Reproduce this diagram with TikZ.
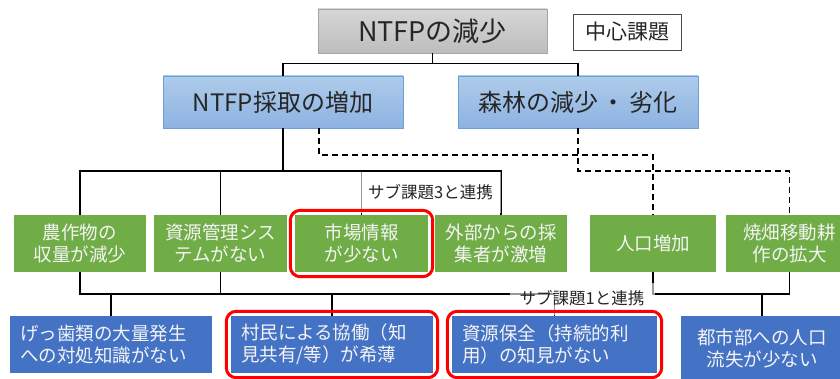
\documentclass[tikz,border=0pt]{standalone}
\usepackage{fontspec}
\setmainfont{Noto Sans CJK JP}
\usetikzlibrary{fit}
\definecolor{grnbox}{HTML}{70AD47}
\definecolor{blubox}{HTML}{4472C4}
\definecolor{hdtop}{HTML}{AECBEA}
\definecolor{hdbot}{HTML}{8DB3E2}
\definecolor{hdline}{HTML}{6A9FD8}
\definecolor{gytop}{HTML}{D6D6D6}
\definecolor{gybot}{HTML}{BDBDBD}
\definecolor{gyline}{HTML}{A5A5A5}
\definecolor{darktext}{HTML}{262626}
\definecolor{lighttext}{HTML}{F4F4F4}
\tikzset{
  base/.style={inner sep=0pt, anchor=center},
  topbox/.style={base, draw=gyline, line width=0.8pt, top color=gytop, bottom color=gybot,
    minimum width=229pt, minimum height=44pt, text=darktext, font=\fontsize{27}{30}\selectfont},
  keybox/.style={base, draw=black!70, line width=0.9pt, fill=white,
    minimum width=108pt, minimum height=36pt, text=darktext, font=\fontsize{21}{24}\selectfont},
  headbox/.style={base, draw=hdline, line width=0.8pt, top color=hdtop, bottom color=hdbot,
    minimum width=240pt, minimum height=52pt, text=darktext, font=\fontsize{24}{28}\selectfont},
  grnnode/.style={base, fill=grnbox, minimum height=57pt, text=lighttext, align=center,
    font=\fontsize{18.5}{22}\selectfont},
  blunode/.style={base, fill=blubox, minimum height=57pt, text=lighttext,
    font=\fontsize{18.5}{22}\selectfont},
  bleft/.style={blunode, align=left, inner xsep=10pt},
  conn/.style={line width=1.8pt, black},
  dconn/.style={line width=1.8pt, black, dash pattern=on 6pt off 4pt},
  linklabel/.style={base, fill=white, fill opacity=0.6, text opacity=1, text=darktext,
    font=\fontsize{16.5}{19}\selectfont},
  redframe/.style={draw=red, line width=3pt, rounded corners=10pt, inner sep=4.5pt}
}
\begin{document}
\begin{tikzpicture}[x=1pt,y=-1pt]
\clip (0,0) rectangle (840,379);
\fill[white] (0,0) rectangle (840,379);

% boxes
\node[topbox] (top) at (432.5,31) {NTFPの減少};
\node[keybox] (key) at (627.5,32) {中心課題};
\node[headbox] (h1) at (283,102) {NTFP採取の増加};
\node[headbox] (h2) at (578,102) {森林の減少\hspace{4pt}・\hspace{4pt}劣化};

\node[grnnode, minimum width=132pt] (g1) at (80,243.5) {農作物の\\収量が減少};
\node[grnnode, minimum width=133pt] (g2) at (220.5,243.5) {資源管理シス\\テムがない};
\node[grnnode, minimum width=133pt] (g3) at (361.5,243.5) {市場情報\\が少ない};
\node[grnnode, minimum width=132pt] (g4) at (501,243.5) {外部からの採\\集者が激増};
\node[grnnode, minimum width=126pt] (g5) at (653,243.5) {人口増加};
\node[grnnode, minimum width=127pt] (g6) at (789.5,243.5) {焼畑移動耕\\作の拡大};

\node[bleft, text width=182pt] (b1) at (111,344.5) {げっ歯類の大量発生\\への対処知識がない};
\node[bleft, text width=182pt] (b2) at (332,344.5) {村民による協働（知\\見共有/等）が希薄};
\node[bleft, text width=185pt] (b3) at (554.5,344.5) {資源保全（持続的利\\用）の知見がない};
\node[blunode, align=center, minimum width=162pt, minimum height=64pt] (b4) at (762,348) {都市部への人口\\流失が少ない};

% connectors
\draw[conn] (top.south) -- ++(0,11);
\draw[conn] (h1.north) -- ++(0,-12) -| (h2.north);
\draw[conn] (h1.south) -- ++(0,43);
\draw[conn] (g1.north) -- ++(0,-44) -| (g4.north);
\draw[conn] (g2.north) -- ++(0,-44);
\draw[conn] (g3.north) -- ++(0,-44);
\draw[dconn] ([xshift=36pt]h1.south) -- ++(0,27) -| (g5.north);
\draw[dconn] (h2.south) -- ++(0,43) -| (g6.north);
\draw[conn] (g1.south) -- ++(0,22) -| (b3.north);
\draw[conn] (g2.south) -- ++(0,22);
\draw[conn] (b1.north) -- ++(0,-22);
\draw[conn] (b2.north) -- ++(0,-22);
\draw[conn] (g5.south) -- ++(0,22) -| (g6.south);
\draw[conn] (b4.north) -- ++(0,-22);

% link labels
\node[linklabel, minimum width=141pt, minimum height=41pt] (l3) at (430.5,192.5) {\raisebox{-4pt}{サブ課題3と連携}};
\node[linklabel, minimum width=145pt, minimum height=32pt] (l1) at (582,299) {\raisebox{3pt}{サブ課題1と連携}};

% red frames
\node[redframe, fit=(g3)] (r1) {};
\node[redframe, fit=(b2)] (r2) {};
\node[redframe, fit=(b3)] (r3) {};
\end{tikzpicture}
\end{document}
